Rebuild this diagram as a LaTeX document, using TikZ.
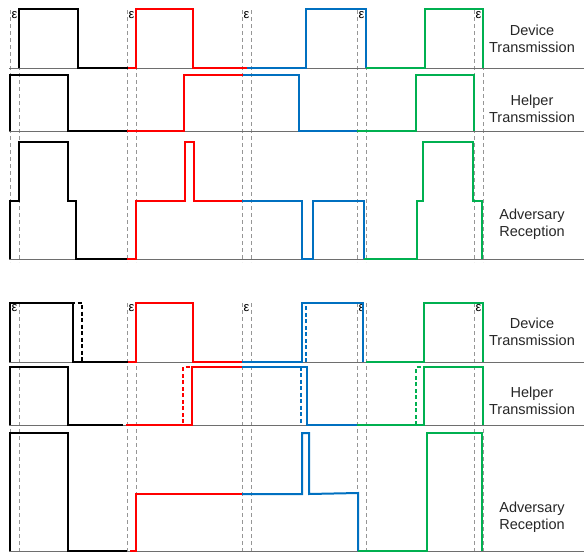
\documentclass[tikz,border=0pt]{standalone}
\usepackage{fontspec}
\setmainfont{Liberation Sans}
\definecolor{wblue}{RGB}{0,112,192}
\definecolor{wgreen}{RGB}{0,176,80}
\definecolor{wred}{RGB}{255,0,0}
\definecolor{gline}{RGB}{110,110,110}
\definecolor{gdash}{RGB}{150,150,150}
\begin{document}
\begin{tikzpicture}[x=1pt,y=-1pt,
  wave/.style={line width=2.6pt,line join=miter},
  thinwave/.style={line width=2pt,line join=miter},
  dwave/.style={line width=2.6pt,dash pattern=on 4pt off 2.5pt},
  axisline/.style={gline,line width=0.9pt},
  guide/.style={gdash,line width=0.9pt,dash pattern=on 4pt off 3pt},
  lbl/.style={font=\fontsize{14.5}{17}\selectfont,align=center,text=black!85},
  eps/.style={font=\fontsize{13}{13}\selectfont,inner sep=0pt}]
\useasboundingbox (0,0) rectangle (584,552);
% guides
\foreach \x in {10,19,127,136,242,251,357,366,474,483}{
  \draw[guide] (\x,10) -- (\x,262);
  \draw[guide] (\x,303) -- (\x,552);
}
% axis lines
\foreach \y in {68,131,259,362,425,551}{
  \draw[axisline] (9,\y) -- (584,\y);
}
% epsilons
\foreach \x [count=\i] in {14.5,131.5,246.5,361.5,478.5}{
  \node[eps] (et\i) at (\x,15) {ε};
  \node[eps] (eb\i) at (\x,308) {ε};
}
% ---------- top: device
\draw[wave,black] (19,68) -- (19,9) -- (78,9) -- (78,68) -- (128,68);
\draw[wave,wred] (128,68) -- (136,68) -- (136,9) -- (193,9) -- (193,68) -- (247,68);
\draw[wave,wblue] (247,68) -- (306,68) -- (306,9) -- (366,9) -- (366,68);
\draw[wave,wgreen] (366,68) -- (425,68) -- (425,9) -- (483,9) -- (483,68);
% top: helper
\draw[wave,black] (10,131) -- (10,75) -- (68,75) -- (68,131) -- (127,131);
\draw[wave,wred] (127,131) -- (184,131) -- (184,75) -- (243,75);
\draw[wave,wblue] (243,75) -- (299,75) -- (299,131) -- (357,131);
\draw[wave,wgreen] (357,131) -- (416,131) -- (416,75) -- (474,75) -- (474,131);
% top: reception
\draw[wave,black] (10,259) -- (10,201) -- (19,201) -- (19,142) -- (68,142) -- (68,201) -- (76,201) -- (76,259) -- (127,259);
\draw[wave,wred] (127,259) -- (136,259) -- (136,201) -- (185,201) -- (185,142) -- (194,142) -- (194,201) -- (242,201);
\draw[wave,wblue] (242,201) -- (302,201) -- (302,259) -- (313,259) -- (313,201) -- (364,201) -- (364,259);
\draw[wave,wgreen] (364,259) -- (417,259) -- (417,201) -- (423,201) -- (423,142) -- (473,142) -- (473,201) -- (482,201) -- (482,259);
% ---------- bottom: device
\draw[wave,black] (10,362) -- (10,303) -- (73,303) -- (73,362) -- (128,362);
\draw[dwave,black] (19,303) -- (82,303) -- (82,362);
\draw[wave,wred] (128,362) -- (136,362) -- (136,303) -- (193,303) -- (193,362) -- (242,362);
\draw[wave,wblue] (242,362) -- (302,362) -- (302,303) -- (363,303) -- (363,362);
\draw[dwave,wblue] (306,362) -- (306,303) -- (363,303);
\draw[wave,wgreen] (366,362) -- (424,362) -- (424,303) -- (483,303) -- (483,362);
% bottom: helper
\draw[wave,black] (10,425) -- (10,367) -- (68,367) -- (68,425) -- (123,425);
\draw[wave,wred] (126,425) -- (192,425) -- (192,367) -- (242,367);
\draw[dwave,wred] (183,423) -- (183,367) -- (192,367);
\draw[wave,wblue] (242,367) -- (307,367) -- (307,425) -- (357,425);
\draw[dwave,wblue] (242,367) -- (301,367) -- (301,425);
\draw[wave,wgreen] (357,425) -- (424,425) -- (424,367) -- (483,367) -- (483,425);
\draw[dwave,wgreen] (416,425) -- (416,367) -- (424,367);
% bottom: reception
\draw[thinwave,black] (10,551) -- (10,433) -- (68,433) -- (68,551) -- (127,551);
\draw[wave,wred] (130,551) -- (136,551) -- (136,494) -- (242,494);
\draw[thinwave,wblue] (242,494) -- (302,494) -- (302,433) -- (309,433) -- (309,494) -- (358,493) -- (358,551);
\draw[thinwave,wgreen] (358,551) -- (427,551) -- (427,433) -- (482,433) -- (482,551);
% labels
\node[lbl] (dt1) at (532,38.5) {Device\\Transmission};
\node[lbl] (ht1) at (532,108.5) {Helper\\Transmission};
\node[lbl] (ar1) at (532,224) {Adversary\\Reception};
\node[lbl] (dt2) at (532,332) {Device\\Transmission};
\node[lbl] (ht2) at (532,401) {Helper\\Transmission};
\node[lbl] (ar2) at (532,517) {Adversary\\Reception};
\end{tikzpicture}
\end{document}
